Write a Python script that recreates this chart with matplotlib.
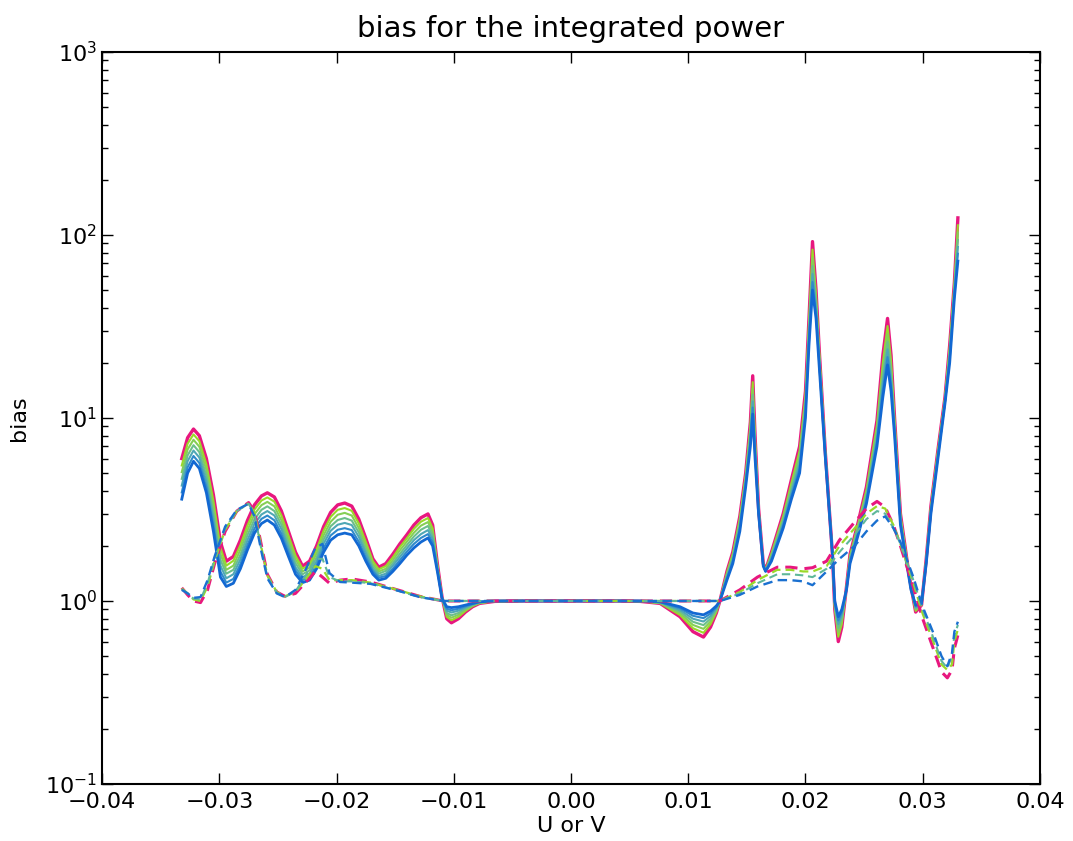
import numpy as np
import matplotlib
matplotlib.use("Agg")
import matplotlib.pyplot as plt
from matplotlib.ticker import LogLocator

# U/V grid for the solid curves
u_solid = [-0.0332, -0.0327, -0.0322, -0.0317, -0.0311, -0.0305, -0.0299, -0.0294, -0.0288, -0.0282,
           -0.0276, -0.0270, -0.0264, -0.0259, -0.0253, -0.0247, -0.0241, -0.0235, -0.0229, -0.0223,
           -0.0217, -0.0211, -0.0205, -0.0199, -0.0193, -0.0187, -0.0181, -0.0175, -0.0169, -0.0164,
           -0.0158, -0.0152, -0.0146, -0.0140, -0.0134, -0.0128, -0.0122, -0.0118, -0.0114, -0.0110,
           -0.0106, -0.0102, -0.0096, -0.0090, -0.0084, -0.0078, -0.0065, -0.0040, 0.0, 0.0040,
           0.0059, 0.0076, 0.0093, 0.0104, 0.0113, 0.0119, 0.0124, 0.0127, 0.0133, 0.0138,
           0.0144, 0.0149, 0.0153, 0.0155, 0.0157, 0.0160, 0.0164, 0.0166, 0.0171, 0.0181,
           0.0188, 0.0195, 0.0200, 0.0203, 0.0206, 0.0209, 0.0212, 0.0217, 0.0223, 0.0225,
           0.0228, 0.0231, 0.0235, 0.0238, 0.0245, 0.0252, 0.0261, 0.0266, 0.0270, 0.0273,
           0.0276, 0.0281, 0.0287, 0.0290, 0.0294, 0.0299, 0.0303, 0.0307, 0.0313, 0.0319,
           0.0323, 0.0327, 0.0330]

# solid curves, from the magenta (top) one to the blue (bottom) one
solid_1 = [6.0, 7.8, 8.7, 8.0, 6.0, 3.8, 2.1, 1.65, 1.75, 2.15,
           2.75, 3.35, 3.75, 3.9, 3.7, 3.1, 2.4, 1.85, 1.55, 1.65,
           2.0, 2.55, 3.05, 3.35, 3.43, 3.3, 2.8, 2.2, 1.7, 1.53,
           1.6, 1.8, 2.05, 2.3, 2.6, 2.85, 2.99, 2.6, 1.6, 1.05,
           0.8, 0.76, 0.8, 0.87, 0.93, 0.97, 0.995, 1.0, 1.0, 1.0,
           0.995, 0.97, 0.82, 0.68, 0.635, 0.72, 0.86, 1.0, 1.45, 1.85,
           2.9, 5.0, 9.5, 17, 8, 3.2, 1.6, 1.48, 1.85, 3.0,
           4.6, 7.0, 14, 35, 92, 50, 22, 6.4, 1.8, 0.9,
           0.6, 0.72, 1.2, 1.8, 2.7, 4.2, 9.7, 22, 35, 22,
           10, 3.0, 1.6, 1.2, 0.87, 0.95, 1.7, 3.3, 6.7, 13,
           25, 55, 124]
solid_2 = [5.5, 7.24, 8.13, 7.47, 5.58, 3.52, 1.95, 1.56, 1.66, 2.02,
           2.58, 3.16, 3.54, 3.68, 3.49, 2.93, 2.28, 1.77, 1.5, 1.58,
           1.91, 2.42, 2.88, 3.15, 3.22, 3.11, 2.65, 2.1, 1.65, 1.49,
           1.55, 1.73, 1.97, 2.2, 2.48, 2.71, 2.84, 2.49, 1.57, 1.047,
           0.82, 0.785, 0.82, 0.883, 0.937, 0.973, 0.996, 1.0, 1.0, 1.0,
           0.996, 0.973, 0.838, 0.71, 0.67, 0.747, 0.873, 1.0, 1.425, 1.81,
           2.82, 4.86, 9.04, 15.7, 7.62, 3.17, 1.59, 1.475, 1.82, 2.91,
           4.41, 6.62, 13.2, 33.1, 83.2, 47.1, 21.3, 6.33, 1.8, 0.917,
           0.637, 0.75, 1.19, 1.77, 2.63, 4.05, 9.18, 20.1, 31.8, 20.4,
           9.63, 2.93, 1.58, 1.19, 0.883, 0.953, 1.68, 3.25, 6.58, 12.8,
           24.1, 53.3, 113]
solid_3 = [5.06, 6.73, 7.6, 6.97, 5.2, 3.26, 1.81, 1.48, 1.56, 1.91,
           2.43, 2.98, 3.34, 3.48, 3.29, 2.76, 2.16, 1.69, 1.45, 1.52,
           1.82, 2.29, 2.71, 2.96, 3.03, 2.93, 2.5, 2.0, 1.59, 1.45,
           1.5, 1.67, 1.89, 2.11, 2.36, 2.58, 2.7, 2.38, 1.55, 1.043,
           0.84, 0.81, 0.84, 0.896, 0.943, 0.977, 0.997, 1.0, 1.0, 1.0,
           0.997, 0.977, 0.857, 0.74, 0.704, 0.773, 0.887, 1.0, 1.4, 1.77,
           2.73, 4.73, 8.59, 14.5, 7.26, 3.13, 1.58, 1.47, 1.78, 2.83,
           4.24, 6.26, 12.5, 31.3, 75.2, 44.4, 20.6, 6.27, 1.8, 0.933,
           0.673, 0.78, 1.18, 1.73, 2.57, 3.91, 8.69, 18.5, 28.8, 18.9,
           9.28, 2.87, 1.57, 1.18, 0.897, 0.957, 1.67, 3.2, 6.47, 12.7,
           23.3, 51.6, 103]
solid_4 = [4.65, 6.25, 7.1, 6.51, 4.83, 3.02, 1.68, 1.41, 1.48, 1.79,
           2.29, 2.8, 3.15, 3.29, 3.1, 2.61, 2.05, 1.61, 1.4, 1.47,
           1.73, 2.17, 2.56, 2.77, 2.84, 2.75, 2.37, 1.9, 1.54, 1.41,
           1.46, 1.61, 1.81, 2.02, 2.25, 2.45, 2.57, 2.28, 1.52, 1.04,
           0.86, 0.835, 0.86, 0.91, 0.95, 0.98, 0.998, 1.0, 1.0, 1.0,
           0.998, 0.98, 0.875, 0.77, 0.738, 0.8, 0.9, 1.0, 1.375, 1.72,
           2.65, 4.59, 8.15, 13.4, 6.93, 3.1, 1.575, 1.465, 1.75, 2.74,
           4.07, 5.92, 11.8, 29.6, 67.8, 41.9, 20.0, 6.2, 1.8, 0.95,
           0.71, 0.81, 1.175, 1.7, 2.5, 3.78, 8.24, 16.9, 26.1, 17.5,
           8.94, 2.8, 1.55, 1.175, 0.91, 0.96, 1.65, 3.15, 6.35, 12.5,
           22.5, 50, 94]
solid_5 = [4.27, 5.81, 6.64, 6.08, 4.5, 2.8, 1.56, 1.33, 1.4, 1.69,
           2.15, 2.64, 2.97, 3.1, 2.93, 2.47, 1.95, 1.53, 1.35, 1.41,
           1.65, 2.06, 2.42, 2.61, 2.67, 2.6, 2.24, 1.82, 1.49, 1.37,
           1.41, 1.56, 1.74, 1.94, 2.15, 2.32, 2.44, 2.18, 1.5, 1.037,
           0.885, 0.865, 0.885, 0.923, 0.957, 0.983, 0.998, 1.0, 1.0, 1.0,
           0.998, 0.983, 0.893, 0.8, 0.772, 0.827, 0.913, 1.0, 1.35, 1.68,
           2.56, 4.46, 7.74, 12.3, 6.6, 3.07, 1.57, 1.46, 1.72, 2.66,
           3.9, 5.6, 11.2, 28, 61.2, 39.4, 19.3, 6.13, 1.8, 0.967,
           0.747, 0.84, 1.167, 1.67, 2.43, 3.65, 7.8, 15.5, 23.7, 16.2,
           8.61, 2.73, 1.53, 1.17, 0.923, 0.963, 1.63, 3.1, 6.23, 12.3,
           21.7, 48.3, 86]
solid_6 = [3.92, 5.38, 6.2, 5.68, 4.19, 2.59, 1.45, 1.26, 1.32, 1.59,
           2.02, 2.49, 2.81, 2.93, 2.76, 2.33, 1.85, 1.47, 1.3, 1.35,
           1.57, 1.95, 2.28, 2.45, 2.5, 2.44, 2.11, 1.73, 1.45, 1.34,
           1.37, 1.5, 1.67, 1.86, 2.05, 2.21, 2.32, 2.09, 1.47, 1.033,
           0.907, 0.89, 0.907, 0.936, 0.963, 0.987, 0.999, 1.0, 1.0, 1.0,
           0.999, 0.987, 0.912, 0.83, 0.806, 0.853, 0.927, 1.0, 1.325, 1.64,
           2.48, 4.33, 7.36, 11.4, 6.29, 3.03, 1.56, 1.455, 1.68, 2.58,
           3.75, 5.29, 10.6, 26.4, 55.3, 37.2, 18.6, 6.07, 1.8, 0.983,
           0.783, 0.87, 1.158, 1.63, 2.37, 3.52, 7.39, 14.2, 21.5, 15.1,
           8.3, 2.67, 1.52, 1.16, 0.937, 0.967, 1.62, 3.05, 6.12, 12.2,
           20.8, 46.6, 79]
solid_7 = [3.6, 5.0, 5.8, 5.3, 3.9, 2.4, 1.35, 1.2, 1.25, 1.5,
           1.9, 2.35, 2.65, 2.77, 2.6, 2.2, 1.75, 1.4, 1.26, 1.3,
           1.5, 1.85, 2.15, 2.3, 2.35, 2.3, 2.0, 1.65, 1.4, 1.3,
           1.33, 1.45, 1.6, 1.78, 1.95, 2.1, 2.21, 2.0, 1.45, 1.03,
           0.93, 0.92, 0.93, 0.95, 0.97, 0.99, 1.0, 1.0, 1.0, 1.0,
           1.0, 0.99, 0.93, 0.86, 0.84, 0.88, 0.94, 1.0, 1.3, 1.6,
           2.4, 4.2, 7.0, 10.5, 6.0, 3.0, 1.55, 1.45, 1.65, 2.5,
           3.6, 5.0, 10, 25, 50, 35, 18, 6.0, 1.8, 1.0,
           0.82, 0.9, 1.15, 1.6, 2.3, 3.4, 7.0, 13, 19.5, 14,
           8, 2.6, 1.5, 1.15, 0.95, 0.97, 1.6, 3.0, 6.0, 12,
           20, 45, 72]

# U/V grid for the dashed curves
u_dashed = [-0.0332, -0.0327, -0.0322, -0.0316, -0.0310, -0.0304, -0.0295, -0.0285, -0.0275, -0.0270,
            -0.0264, -0.0259, -0.0251, -0.0244, -0.0235, -0.0227, -0.0218, -0.0212, -0.0206, -0.0197,
            -0.0187, -0.0171, -0.0148, -0.0129, -0.0109, -0.0078, 0.0, 0.0104, 0.0127, 0.0144,
            0.0159, 0.0176, 0.0187, 0.0198, 0.0206, 0.0218, 0.0229, 0.0242, 0.0252, 0.0261,
            0.0268, 0.0275, 0.0281, 0.0292, 0.0300, 0.0309, 0.0316, 0.0321, 0.0325, 0.0327,
            0.0330]
dashed_1 = [1.18, 1.08, 1.0, 0.98, 1.15, 1.6, 2.4, 3.1, 3.45, 3.1,
            2.0, 1.4, 1.12, 1.06, 1.1, 1.25, 1.45, 1.35, 1.25, 1.3,
            1.32, 1.27, 1.15, 1.06, 1.0, 1.0, 1.0, 1.0, 1.0, 1.15,
            1.35, 1.53, 1.53, 1.5, 1.52, 1.65, 2.15, 2.7, 3.2, 3.5,
            3.25, 2.6, 2.0, 1.19, 0.8, 0.55, 0.41, 0.38, 0.42, 0.55,
            0.65]
dashed_2 = [1.17, 1.1, 1.02, 1.0, 1.2, 1.65, 2.45, 3.1, 3.42, 3.05,
            1.95, 1.38, 1.12, 1.06, 1.12, 1.3, 1.55, 1.5, 1.3, 1.3,
            1.3, 1.26, 1.15, 1.06, 1.0, 1.0, 1.0, 1.0, 1.0, 1.12,
            1.3, 1.48, 1.48, 1.45, 1.45, 1.55, 2.0, 2.5, 3.0, 3.3,
            3.2, 2.6, 2.05, 1.25, 0.85, 0.6, 0.45, 0.42, 0.45, 0.6,
            0.7]
dashed_3 = [1.16, 1.1, 1.03, 1.02, 1.25, 1.7, 2.5, 3.1, 3.4, 3.0,
            1.9, 1.35, 1.11, 1.05, 1.13, 1.35, 1.7, 1.7, 1.35, 1.28,
            1.28, 1.25, 1.14, 1.05, 1.0, 1.0, 1.0, 1.0, 1.0, 1.1,
            1.25, 1.4, 1.4, 1.38, 1.35, 1.5, 1.85, 2.3, 2.8, 3.1,
            3.0, 2.5, 2.05, 1.3, 0.9, 0.63, 0.47, 0.43, 0.5, 0.65,
            0.74]
dashed_4 = [1.15, 1.1, 1.04, 1.05, 1.3, 1.75, 2.55, 3.15, 3.4, 2.9,
            1.85, 1.33, 1.1, 1.05, 1.15, 1.45, 1.95, 2.05, 1.42, 1.27,
            1.26, 1.24, 1.14, 1.05, 1.0, 1.0, 1.0, 1.0, 1.0, 1.08,
            1.2, 1.3, 1.3, 1.28, 1.22, 1.45, 1.7, 2.0, 2.4, 2.75,
            2.9, 2.5, 2.1, 1.35, 0.93, 0.67, 0.5, 0.44, 0.52, 0.68,
            0.77]

x_ticks = [-0.04, -0.03, -0.02, -0.01, 0.0, 0.01, 0.02, 0.03, 0.04]

solid_curves = [solid_1, solid_2, solid_3, solid_4, solid_5, solid_6, solid_7]
solid_colors = ['#e8177f', '#9ad928', '#86cf55', '#6cbf8a', '#4fa8b5', '#2f8acb', '#1268d2']
solid_widths = [2.4, 1.5, 1.5, 1.5, 1.5, 1.5, 2.0]

dashed_curves = [dashed_1, dashed_2, dashed_3, dashed_4]
dashed_colors = ['#e8177f', '#9ad928', '#5fb79a', '#1a70d0']
dashed_widths = [2.2, 1.6, 1.5, 1.7]

plt.rcParams['font.family'] = 'DejaVu Sans'
fig = plt.figure(figsize=(10.73, 8.41), dpi=100)
ax = fig.add_axes([0.0951, 0.0678, 0.8741, 0.8704])

for vals, col, lw in zip(solid_curves, solid_colors, solid_widths):
    ax.plot(u_solid, vals, '-', color=col, lw=lw)
for vals, col, lw in zip(dashed_curves, dashed_colors, dashed_widths):
    ax.plot(u_dashed, vals, '--', color=col, lw=lw, dashes=(4.0, 2.3))

ax.set_yscale('log')
ax.set_ylim(0.1, 1000)
ax.set_xlim(-0.04, 0.04)
ax.set_xticks(x_ticks)
ax.yaxis.set_minor_locator(LogLocator(base=10, subs=np.arange(2, 10)))

ax.tick_params(which='both', direction='in', top=True, right=True, labelsize=16, width=1)
ax.tick_params(which='major', length=8)
ax.tick_params(which='minor', length=4.5)
ax.tick_params(axis='x', pad=6)
for sp in ax.spines.values():
    sp.set_linewidth(1.5)

ax.set_title('bias for the integrated power', fontsize=21, pad=11)
ax.set_xlabel('U or V', fontsize=16, labelpad=3)
ax.set_ylabel('bias', fontsize=16, labelpad=12)

fig.savefig('out.png', dpi=100)
